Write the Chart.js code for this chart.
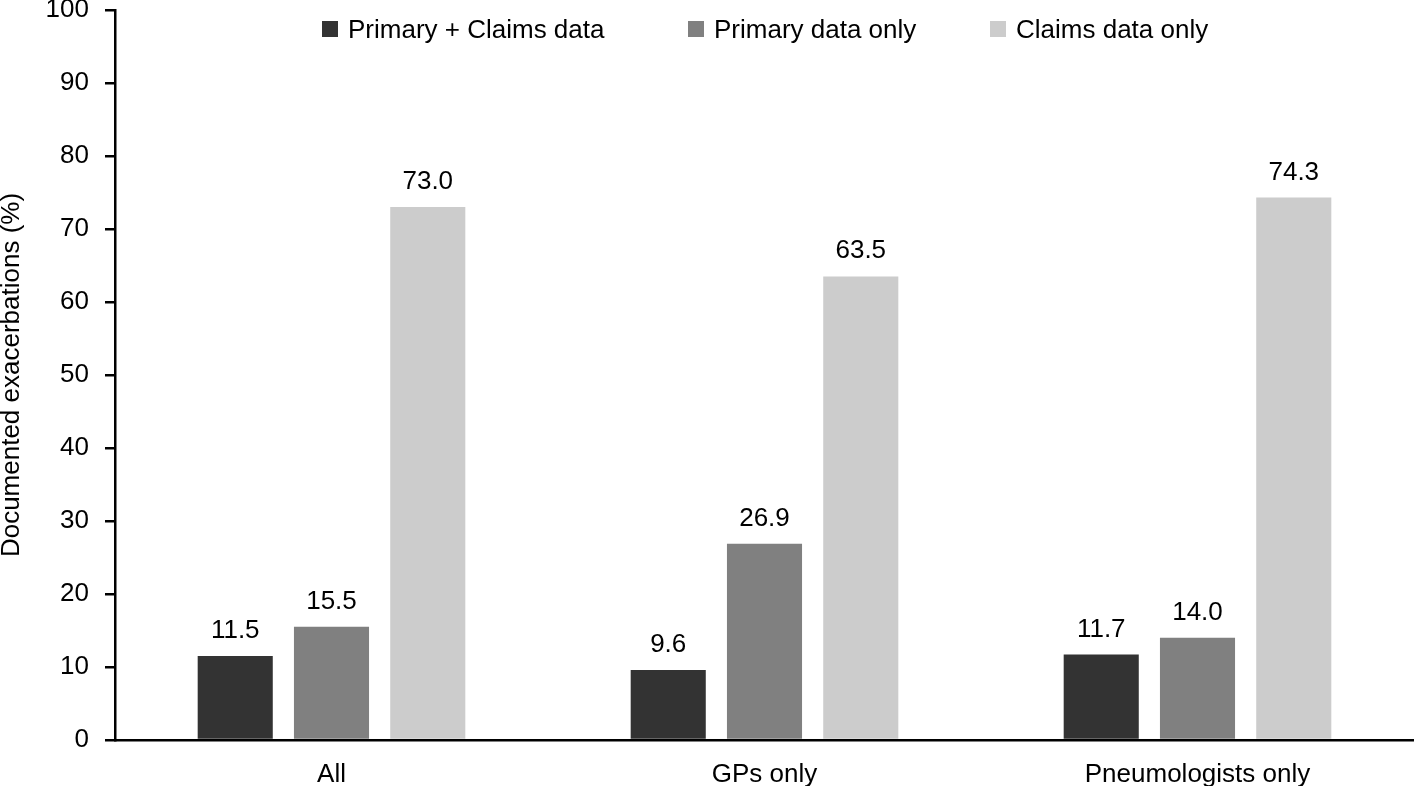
<!DOCTYPE html>
<html>
<head>
<meta charset="utf-8">
<script src="https://cdn.jsdelivr.net/npm/chart.js@4"></script>
<style>
  html, body { margin: 0; padding: 0; background: #ffffff; }
  #wrap { width: 1414px; height: 786px; }
</style>
</head>
<body>
<div id="wrap"><canvas id="c" width="1414" height="786"></canvas></div>
<script>
const categories = ['All', 'GPs only', 'Pneumologists only'];
const seriesNames = ['Primary + Claims data', 'Primary data only', 'Claims data only'];
const primaryClaims = [11.5, 9.6, 11.7];
const primaryOnly = [15.5, 26.9, 14.0];
const claimsOnly = [73.0, 63.5, 74.3];
const yMin = 0, yMax = 100, yStep = 10;
const yTitle = 'Documented exacerbations (%)';

const FONT = '"Liberation Sans", Arial, Helvetica, sans-serif';
const FS = 26;
const colors = ['#333333', '#808080', '#cccccc'];

const valueLabels = {
  id: 'valueLabels',
  afterDatasetsDraw(chart) {
    const ctx = chart.ctx;
    ctx.save();
    ctx.font = FS + 'px ' + FONT;
    ctx.fillStyle = '#000';
    ctx.textAlign = 'center';
    ctx.textBaseline = 'alphabetic';
    chart.data.datasets.forEach((ds, i) => {
      chart.getDatasetMeta(i).data.forEach((bar, j) => {
        ctx.fillText(ds.data[j].toFixed(1), bar.x, bar.y - 18);
      });
    });
    ctx.restore();
  }
};

const topLegend = {
  id: 'topLegend',
  afterDraw(chart) {
    const ctx = chart.ctx;
    const boxX = [322, 688, 990];
    ctx.save();
    ctx.font = FS + 'px ' + FONT;
    ctx.textAlign = 'left';
    ctx.textBaseline = 'alphabetic';
    chart.data.datasets.forEach((ds, i) => {
      ctx.fillStyle = ds.backgroundColor;
      ctx.fillRect(boxX[i], 21, 16, 16);
      ctx.fillStyle = '#000';
      ctx.fillText(ds.label, boxX[i] + 26, 38);
    });
    ctx.restore();
  }
};

new Chart(document.getElementById('c'), {
  type: 'bar',
  data: {
    labels: categories,
    datasets: [
      { label: seriesNames[0], data: primaryClaims, backgroundColor: colors[0] },
      { label: seriesNames[1], data: primaryOnly, backgroundColor: colors[1] },
      { label: seriesNames[2], data: claimsOnly, backgroundColor: colors[2] }
    ]
  },
  options: {
    responsive: false,
    devicePixelRatio: 1,
    animation: false,
    layout: { padding: { top: 10, right: 0, bottom: 0, left: 0 } },
    datasets: { bar: { categoryPercentage: 0.667, barPercentage: 0.78, borderWidth: 0 } },
    plugins: { legend: { display: false }, tooltip: { enabled: false } },
    scales: {
      x: {
        grid: { display: false, drawTicks: false },
        border: { display: true, color: '#000', width: 2.5 },
        ticks: { color: '#000', font: { family: FONT, size: FS }, padding: 19, maxRotation: 0 },
        afterFit(scale) { scale.height = 46; }
      },
      y: {
        min: yMin, max: yMax,
        grid: { display: true, drawOnChartArea: false, drawTicks: true, tickLength: 10, color: '#000', lineWidth: 2.5 },
        border: { display: true, color: '#000', width: 2.5 },
        ticks: { stepSize: yStep, color: '#000', font: { family: FONT, size: FS }, padding: 16 },
        title: { display: true, text: yTitle, color: '#000', font: { family: FONT, size: FS, lineHeight: 0.9 }, padding: 0 },
        afterFit(scale) { scale.width = 115; scale.paddingTop = 0; scale.paddingBottom = 0; }
      }
    }
  },
  plugins: [valueLabels, topLegend]
});
</script>
</body>
</html>
